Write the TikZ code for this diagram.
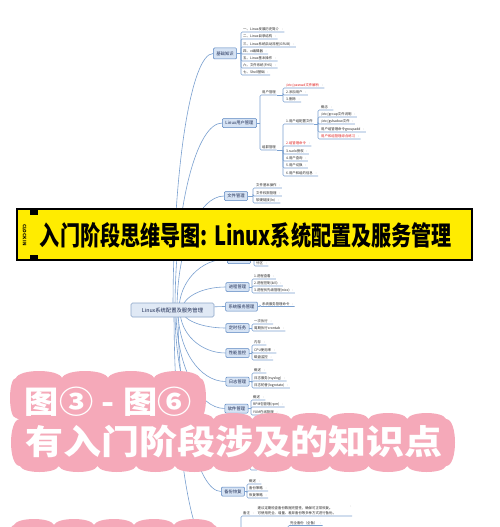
\documentclass[tikz,border=0pt]{standalone}
\usepackage{fontspec}
\setmainfont{Noto Sans CJK SC}
\usepackage{graphicx}
\usetikzlibrary{calc}
\definecolor{conn}{RGB}{122,160,208}
\definecolor{nfill}{RGB}{214,227,244}
\definecolor{ndraw}{RGB}{88,132,192}
\definecolor{ntext}{RGB}{28,42,82}
\definecolor{rfill}{RGB}{224,233,245}
\definecolor{rdraw}{RGB}{140,165,200}
\definecolor{redt}{RGB}{225,30,30}
\definecolor{ylw}{RGB}{255,236,0}
\definecolor{pk}{RGB}{245,169,185}
\tikzset{
  cn/.style={draw=conn, line width=0.6pt},
  lone/.style={draw=ndraw, fill=nfill, line width=0.5pt, rounded corners=1pt, text=ntext,
    font=\fontsize{4.3}{5}\selectfont, inner xsep=3pt, inner ysep=0pt, minimum height=9pt},
  kid/.style={anchor=south west, inner xsep=0.5pt, inner ysep=0.8pt,
    font=\fontsize{3.4}{4}\selectfont, text=black!85},
  rootbox/.style={draw=rdraw, fill=rfill, line width=0.6pt, rounded corners=1.5pt, text=ntext,
    minimum width=83pt, minimum height=14pt, inner sep=0pt, font=\fontsize{5.3}{6}\selectfont},
  ptext/.style={inner sep=0pt, text=white, font=\bfseries}
}
\newcommand\mkr{\hspace{2pt}\textcolor{black!60}{\fontsize{2.6}{3}\selectfont •}}
\newcommand\rootlink[2]{\draw[cn] (#1) .. controls ($(#1)!0.55!(#1 |- #2)$) and ($(#1 |- #2)!0.45!(#2)$) .. (#2);}
\newcommand\kidnode[4]{\node[kid] (#1) at (#2) {#3};\draw[cn,rounded corners=1.2pt] (#4) |- (#1.south east);}
\newcommand\pinkband[8]{%
\fill[pk] (#1,#3+#7)
 foreach \i in {1,...,#5}{
   .. controls ({#1+(\i-1+0.08)*(#2-#1)/#5},{#3-0.333*#7}) and ({#1+(\i-0.08)*(#2-#1)/#5},{#3-0.333*#7}) .. ({#1+\i*(#2-#1)/#5},{#3+#7})
 }
 .. controls ({#2+1.333*#8},{#3+#7}) and ({#2+1.333*#8},{#4-#7}) .. (#2,#4-#7)
 foreach \i in {1,...,#6}{
   .. controls ({#2-(\i-1+0.08)*(#2-#1)/#6},{#4+0.333*#7}) and ({#2-(\i-0.08)*(#2-#1)/#6},{#4+0.333*#7}) .. ({#2-\i*(#2-#1)/#6},{#4-#7})
 }
 .. controls ({#1-1.333*#8},{#4-#7}) and ({#1-1.333*#8},{#3+#7}) .. (#1,#3+#7) -- cycle;}
\begin{document}
\begin{tikzpicture}[x=1pt,y=-1pt]
\useasboundingbox (0,0) rectangle (500,527);
\clip (0,0) rectangle (500,527);
\fill[white] (0,0) rectangle (500,527);

% ---------- level-1 nodes ----------
\node[lone, minimum height=11pt] (n1) at (225,53.5) {基础知识};
\node[lone] (n2) at (239.5,123) {Linux用户管理};
\node[lone] (n3) at (236,196) {文件管理};
\node[lone] (n4) at (239,259) {磁盘管理};
\node[lone] (n5) at (237.5,287) {进程管理};
\node[lone] (n6) at (241.5,306.5) {系统服务管理};
\node[lone] (n7) at (237.5,328) {定时任务};
\node[lone] (n8) at (237.5,353) {性能监控};
\node[lone] (n9) at (237.5,381.5) {日志管理};
\node[lone] (n10) at (236.5,408.5) {软件管理};
\node[lone, minimum width=22pt] (n11) at (236,444) {};
\node[lone] (n12) at (233,491.5) {备份恢复};
\node[lone, minimum width=24pt] (n13) at (224,550) {};

% ---------- links from root ----------
\coordinate (s1) at (173,310);
\coordinate (s2) at (175,310);
\coordinate (s3) at (177,310);
\coordinate (s4) at (179,310);
\coordinate (s5) at (182,310);
\coordinate (s6) at (200,310);
\coordinate (s7) at (182,310);
\coordinate (s8) at (180,310);
\coordinate (s9) at (178,310);
\coordinate (s10) at (176,310);
\coordinate (s11) at (175,310);
\coordinate (s12) at (178,310);
\coordinate (s13) at (174,310);
\rootlink{s1}{n1.west}
\rootlink{s2}{n2.west}
\rootlink{s3}{n3.west}
\rootlink{s4}{n4.west}
\rootlink{s5}{n5.west}
\rootlink{s6}{n6.west}
\rootlink{s7}{n7.west}
\rootlink{s8}{n8.west}
\rootlink{s9}{n9.west}
\rootlink{s10}{n10.west}
\rootlink{s11}{n11.west}
\rootlink{s12}{n12.west}
\rootlink{s13}{n13.west}

\node[rootbox] (root) at (172.5,310) {Linux系统配置及服务管理};

% ---------- n1 ----------
\coordinate (b1) at (241,53.5);
\draw[cn] (n1.east) -- (b1);
\kidnode{k1a}{242.5,32}{一、Linux发展历史简介\mkr}{b1}
\kidnode{k1b}{242.5,39}{二、Linux目录结构\mkr}{b1}
\kidnode{k1c}{242.5,47}{三、Linux系统启动流程(GRUB)\mkr}{b1}
\kidnode{k1d}{242.5,54}{四、vi编辑器\mkr}{b1}
\kidnode{k1e}{242.5,61}{五、Linux基本操作\mkr}{b1}
\kidnode{k1f}{242.5,68}{六、文件系统(FHS)\mkr}{b1}
\kidnode{k1g}{242.5,75}{七、Shell基础\mkr}{b1}

% ---------- n2 ----------
\coordinate (b2) at (260,123);
\draw[cn] (n2.east) -- (b2);
\kidnode{k2a}{261.5,95}{用户管理}{b2}
\kidnode{k2b}{261.5,150}{组群管理}{b2}
\coordinate (b2a) at (283,95);
\draw[cn] (k2a.south east) -- (b2a);
\kidnode{k2a1}{285.5,88}{\textcolor{redt}{/etc/passwd文件解析}\mkr}{b2a}
\kidnode{k2a2}{285.5,95}{2.添加用户\mkr}{b2a}
\kidnode{k2a3}{285.5,102}{3.删除\mkr}{b2a}
\coordinate (b2b) at (283,150);
\draw[cn] (k2b.south east) -- (b2b);
\kidnode{k2b1}{285.5,124}{1.用户组配置文件}{b2b}
\kidnode{k2b2}{285.5,146}{\textcolor{redt}{2.组管理命令}\mkr}{b2b}
\kidnode{k2b3}{285.5,154}{3.sudo授权\mkr}{b2b}
\kidnode{k2b4}{285.5,161}{4.用户查询\mkr}{b2b}
\kidnode{k2b5}{285.5,168}{5.用户切换\mkr}{b2b}
\kidnode{k2b6}{285.5,176}{6.用户和组的信息\mkr}{b2b}
\coordinate (b2c) at (318,124);
\draw[cn] (k2b1.south east) -- (b2c);
\kidnode{k2c1}{320.5,110}{概念\mkr}{b2c}
\kidnode{k2c2}{320.5,117}{/etc/group文件说明\mkr}{b2c}
\kidnode{k2c3}{320.5,124}{/etc/gshadow文件\mkr}{b2c}
\kidnode{k2c4}{320.5,132}{用户组管理命令groupadd\mkr}{b2c}
\kidnode{k2c5}{320.5,139}{\textcolor{redt}{用户和组管理综合练习}\mkr}{b2c}

% ---------- n3 ----------
\coordinate (b3) at (253,196);
\draw[cn] (n3.east) -- (b3);
\kidnode{k3a}{255.5,188}{文件基本操作\mkr}{b3}
\kidnode{k3b}{255.5,196}{文件权限管理\mkr}{b3}
\kidnode{k3c}{255.5,203}{软硬链接(ln)\mkr}{b3}

% ---------- n4 ----------
\coordinate (b4) at (254,259);
\draw[cn] (n4.east) -- (b4);
\kidnode{k4a}{255.5,266}{分区\mkr}{b4}

% ---------- n5 ----------
\coordinate (b5) at (252,287);
\draw[cn] (n5.east) -- (b5);
\kidnode{k5a}{253.5,279}{1.进程查看\mkr}{b5}
\kidnode{k5b}{253.5,286}{2.进程控制(kill)\mkr}{b5}
\kidnode{k5c}{253.5,293}{3.进程优先级管理(nice)\mkr}{b5}

% ---------- n6 ----------
\coordinate (b6) at (260,306.5);
\draw[cn] (n6.east) -- (b6);
\kidnode{k6a}{261.5,306.5}{系统服务管理命令\mkr}{b6}

% ---------- n7 ----------
\coordinate (b7) at (252,328);
\draw[cn] (n7.east) -- (b7);
\kidnode{k7a}{253.5,324}{一次执行\mkr}{b7}
\kidnode{k7b}{253.5,331}{周期执行crontab\mkr}{b7}

% ---------- n8 ----------
\coordinate (b8) at (252,353);
\draw[cn] (n8.east) -- (b8);
\kidnode{k8a}{253.5,345}{内存\mkr}{b8}
\kidnode{k8b}{253.5,353}{CPU使用率\mkr}{b8}
\kidnode{k8c}{253.5,360}{磁盘监控\mkr}{b8}

% ---------- n9 ----------
\coordinate (b9) at (252,381.5);
\draw[cn] (n9.east) -- (b9);
\kidnode{k9a}{253.5,373}{概述\mkr}{b9}
\kidnode{k9b}{253.5,381}{日志服务(rsyslog)\mkr}{b9}
\kidnode{k9c}{253.5,388}{日志轮替(logrotate)\mkr}{b9}

% ---------- n10 ----------
\coordinate (b10) at (251,408.5);
\draw[cn] (n10.east) -- (b10);
\kidnode{k10a}{252.5,400}{概述\mkr}{b10}
\kidnode{k10b}{252.5,407}{RPM包管理(rpm)\mkr}{b10}
\kidnode{k10c}{252.5,415}{YUM在线管理\mkr}{b10}

% ---------- n11 (hidden under the banner) ----------
\coordinate (b11) at (250,444);
\draw[cn] (n11.east) -- (b11);
\coordinate (u11) at (257,470);
\draw[cn,rounded corners=1.2pt] (b11) |- (u11);

% ---------- n12 ----------
\coordinate (b12) at (247,491.5);
\draw[cn] (n12.east) -- (b12);
\kidnode{k12a}{248.5,484}{概述\mkr}{b12}
\kidnode{k12b}{248.5,491}{备份策略\mkr}{b12}
\kidnode{k12c}{248.5,498}{恢复策略\mkr}{b12}

% ---------- n13 (below the page) ----------
\coordinate (b13) at (241,550);
\draw[cn] (n13.east) -- (b13);
\coordinate (u13) at (352,516);
\draw[cn,rounded corners=1.2pt] (b13) |- (u13);
\node[kid] (k13a) at (242.5,516) {备注\mkr};
\node[kid, align=left, font=\fontsize{3.4}{5}\selectfont] (nt13) at (257,516)
  {建议定期检查备份数据完整性，确保可正常恢复。\\可使用完全、增量、差异备份等多种方式进行备份。};
\node[inner sep=0pt, text=black!60, font=\fontsize{2.6}{3}\selectfont] (mk13) at (351,507) {•};
\coordinate (bg) at (288,545);
\kidnode{kg}{289.5,525.5}{完全备份（全备）\mkr}{bg}

% ---------- yellow title banner ----------
\draw[fill=ylw, line width=2.2pt] (17.1,209.1) rectangle (471.9,259.9);
\fill[black] (30,209) rectangle (38,214.5);
\fill[black] (30,254.5) rectangle (38,260);
\node[rotate=-90, inner sep=0pt, font=\bfseries\fontsize{4.6}{5}\selectfont] (ck) at (24.5,235) {CLOCK IN};
\node[inner sep=0pt, font=\bfseries] (tt) at (246,235)
  {\resizebox{412pt}{23pt}{入门阶段思维导图: Linux系统配置及服务管理}};

% ---------- pink banners ----------
\pinkband{16}{200}{371}{425}{4}{1}{7}{6}
\pinkband{20}{446}{413}{472}{11}{11}{6}{9}
\pinkband{14}{214}{519}{620}{5}{1}{6}{8}
\node[ptext] (p1) at (108.5,402) {\resizebox{167pt}{26.5pt}{图③\hspace{0.25em}-\hspace{0.25em}图⑥}};
\node[ptext] (p2) at (234,441.5) {\resizebox{418pt}{29.5pt}{有入门阶段涉及的知识点}};
\end{tikzpicture}
\end{document}
